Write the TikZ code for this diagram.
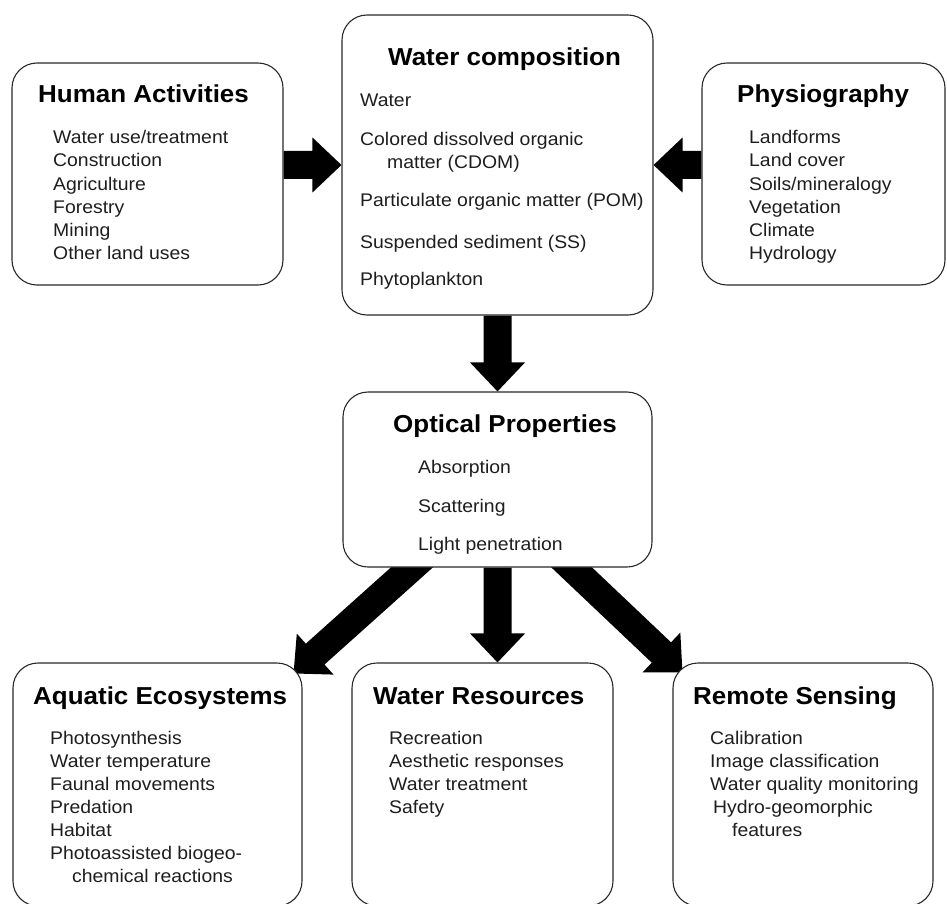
\documentclass[tikz,border=0pt]{standalone}
\usepackage{fontspec}
\setmainfont[FakeStretch=1.06]{Liberation Sans}
\usetikzlibrary{positioning,calc,backgrounds}
\tikzstyle{canvas} = [x = 1pt, y = -1pt]
\definecolor{lineColor}{RGB}{40,40,40}
\definecolor{textColor}{RGB}{30,30,30}
\tikzstyle{boxStyle} = [draw=lineColor, fill=white, rounded corners = 25pt, line width=1.1pt, inner sep=0pt]
\tikzstyle{titleText} = [font=\fontsize{24.5}{28}\selectfont\bfseries, text=black, anchor=base west, inner sep=0pt]
\tikzstyle{itemText} = [font=\fontsize{18.3}{22}\selectfont, text=textColor, anchor=base west, inner sep=0pt]
\tikzstyle{arrowFill} = [fill=black]
\newcommand{\shaftW}{14pt}
\newcommand{\headW}{27.5pt}
\newcommand{\headL}{29pt}
\newcommand{\fatArrow}[2]{
  \coordinate (headBase) at ($(#2)!\headL!(#1)$);
  \fill [arrowFill] ($(#1)!\shaftW!90:(#2)$) -- ($(headBase)!\shaftW!90:(#2)$) -- ($(headBase)!\headW!90:(#2)$) -- (#2) -- ($(headBase)!\headW!-90:(#2)$) -- ($(headBase)!\shaftW!-90:(#2)$) -- ($(#1)!\shaftW!-90:(#2)$) -- cycle;
}
\newcommand{\itemList}[4]{
  \foreach \txt [count=\i] in {#4} {
    \node [itemText] (#1-\i) at (#2, #3 + 23 * \i - 23) {\txt};
  }
}

\begin{document}
\begin{tikzpicture}[canvas]
\useasboundingbox (0,0) rectangle (947,904);
% boxes
\node [boxStyle, minimum width=271pt, minimum height=222pt] (ha) at (147.5,174) {};
\node [boxStyle, minimum width=311pt, minimum height=300pt] (wc) at (497.5,165) {};
\node [boxStyle, minimum width=243pt, minimum height=222pt] (ph) at (823.5,174) {};
\node [boxStyle, minimum width=309pt, minimum height=175pt] (op) at (497.5,479.5) {};
\node [boxStyle, minimum width=289pt, minimum height=243pt] (ae) at (157.5,784.5) {};
\node [boxStyle, minimum width=261pt, minimum height=243pt] (wr) at (482.5,784.5) {};
\node [boxStyle, minimum width=260pt, minimum height=243pt] (rs) at (803,784.5) {};
% top row
\node [titleText] (haTitle) at (38,103) {Human Activities};
\itemList{ha}{53}{144}{{Water use/treatment},Construction,Agriculture,Forestry,Mining,Other land uses}
\node [titleText] (wcTitle) at (388,66) {Water composition};
\node [itemText] (wc-1) at (360,107) {Water};
\node [itemText] (wc-2) at (360,146) {Colored dissolved organic};
\node [itemText] (wc-3) at (387,168) {matter (CDOM)};
\node [itemText] (wc-4) at (360,207) {Particulate organic matter (POM)};
\node [itemText] (wc-5) at (360,248) {Suspended sediment (SS)};
\node [itemText] (wc-6) at (360,285) {Phytoplankton};
\node [titleText] (phTitle) at (737,103) {Physiography};
\itemList{ph}{749}{144}{Landforms,Land cover,{Soils/mineralogy},Vegetation,Climate,Hydrology}
% middle
\node [titleText] (opTitle) at (393,432) {Optical Properties};
\node [itemText] (op-1) at (418,473) {Absorption};
\node [itemText] (op-2) at (418,512) {Scattering};
\node [itemText] (op-3) at (418,550) {Light penetration};
% bottom row
\node [titleText] (aeTitle) at (33,704) {Aquatic Ecosystems};
\itemList{ae}{50}{744}{Photosynthesis,Water temperature,Faunal movements,Predation,Habitat,Photoassisted biogeo-}
\node [itemText] (ae-7) at (72,882) {chemical reactions};
\node [titleText] (wrTitle) at (373,704) {Water Resources};
\itemList{wr}{389}{744}{Recreation,Aesthetic responses,Water treatment,Safety}
\node [titleText] (rsTitle) at (693,704) {Remote Sensing};
\itemList{rs}{710}{744}{Calibration,Image classification,Water quality monitoring}
\node [itemText] (rs-4) at (713,813) {Hydro-geomorphic};
\node [itemText] (rs-5) at (732,836) {features};
% arrows
\begin{pgfonlayer}{background}
  \coordinate (haOut) at (ha.east |- wc.west);
  \coordinate (phOut) at (ph.west |- wc.east);
  \coordinate (wrIn) at (op.south |- wr.north);
  \coordinate (opLeft) at ($(op.south)+(-69,-15)$);
  \coordinate (opRight) at ($(op.south)+(58.5,-15)$);
  \coordinate (aeTip) at ($(ae.north east)+(-9,11)$);
  \coordinate (rsTip) at ($(rs.north west)+(10,10)$);
  \fatArrow{haOut}{wc.west}
  \fatArrow{phOut}{wc.east}
  \fatArrow{wc.south}{op.north}
  \fatArrow{op.south}{wrIn}
  \fatArrow{opLeft}{aeTip}
  \fatArrow{opRight}{rsTip}
\end{pgfonlayer}
\end{tikzpicture}
\end{document}
